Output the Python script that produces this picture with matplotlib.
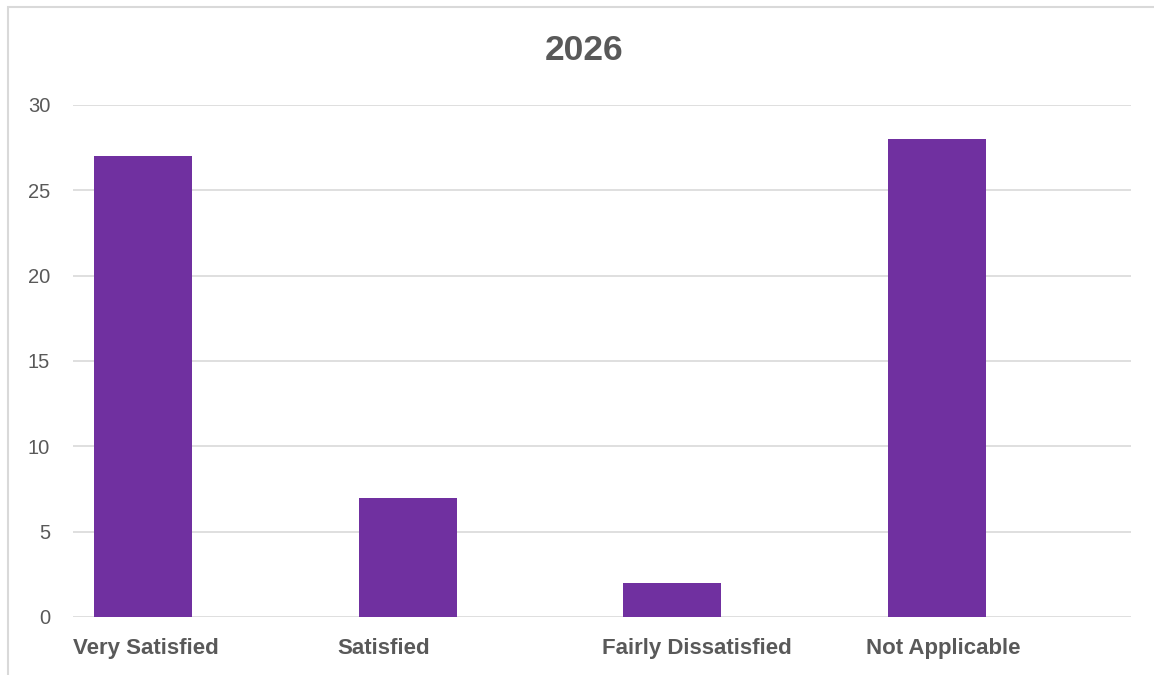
import matplotlib
matplotlib.use("Agg")
import matplotlib.pyplot as plt
from matplotlib.patches import Rectangle

title = "2026"
categories = ["Very Satisfied", "Satisfied", "Fairly Dissatisfied", "Not Applicable"]
values = [27, 7, 2, 28]
yticks = [0, 5, 10, 15, 20, 25, 30]

W, H = 1154, 675
fig = plt.figure(figsize=(W / 100, H / 100), dpi=100)
fig.patch.set_facecolor("white")

# chart border (light gray) starting at top-left, cut off on right/bottom
fig.add_artist(Rectangle((8 / W, -0.1), 1.2, 1.1 - 7 / H, transform=fig.transFigure,
                         fill=False, edgecolor="#D9D9D9", linewidth=1.5))

left, right = 73 / W, 1131 / W
bottom, top = 1 - 617 / H, 1 - 105 / H
ax = fig.add_axes([left, bottom, right - left, top - bottom])

gray = "#595959"
font = "Liberation Sans"

n = len(categories)
bar_offset = 0.081
bar_width = 0.37
xs = [i + bar_offset for i in range(n)]
ax.bar(xs, values, width=bar_width, align="edge", color="#7030A0", zorder=3)

ax.set_xlim(0, n)
ax.set_ylim(0, 30)
ax.set_yticks(yticks)
ax.set_yticklabels([str(v) for v in yticks], fontsize=14.5, color=gray, fontfamily=font)
ax.tick_params(axis="y", length=0, pad=16.5)
ax.set_xticks([])
for s in ax.spines.values():
    s.set_visible(False)
ax.grid(axis="y", color="#D9D9D9", linewidth=1.2, zorder=0)

for i, c in enumerate(categories):
    ax.text(i, -1.85, c, ha="left", va="center", fontsize=16, fontweight="bold",
            color=gray, fontfamily=font)

fig.text(584 / W, 1 - 50 / H, title, ha="center", va="center",
         fontsize=25.5, fontweight="bold", color=gray, fontfamily=font)

fig.savefig("out.png", dpi=100)
